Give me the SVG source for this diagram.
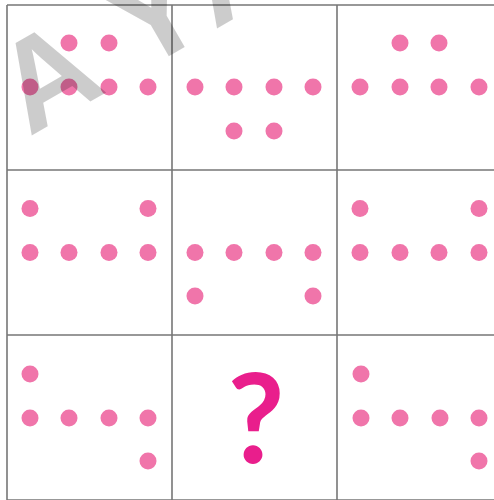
<svg xmlns="http://www.w3.org/2000/svg" width="494" height="500" viewBox="0 0 494 500">
<style>
.grid{fill:none;stroke:#777;stroke-width:1.6}
.d{fill:#F075AA}
.q{font-family:Lato,"Open Sans",sans-serif;font-weight:bold;font-size:124px;fill:#E91E8C;text-anchor:middle}
.wm{font-family:"Liberation Sans",Arial,sans-serif;font-weight:bold;font-size:128px;fill:#000;fill-opacity:0.2}
</style>
<defs>
<circle id="dot" r="8.5" class="d"/>
</defs>
<rect width="494" height="500" fill="#fff"/>
<g id="grid">
<path class="grid" d="M7,5V502M172,5V502M337,5V502M7,5H502M7,170H502M7,335H502M7,500H502"/>
</g>
<g id="cell-1-1">
<use href="#dot" x="69" y="43"/><use href="#dot" x="109" y="43"/>
<use href="#dot" x="30" y="87"/><use href="#dot" x="69" y="87"/><use href="#dot" x="109" y="87"/><use href="#dot" x="148" y="87"/>
</g>
<g id="cell-1-2">
<use href="#dot" x="195" y="87"/><use href="#dot" x="234" y="87"/><use href="#dot" x="274" y="87"/><use href="#dot" x="313" y="87"/>
<use href="#dot" x="234" y="131"/><use href="#dot" x="274" y="131"/>
</g>
<g id="cell-1-3">
<use href="#dot" x="400" y="43"/><use href="#dot" x="439" y="43"/>
<use href="#dot" x="360" y="87"/><use href="#dot" x="400" y="87"/><use href="#dot" x="439" y="87"/><use href="#dot" x="479" y="87"/>
</g>
<g id="cell-2-1">
<use href="#dot" x="30" y="208.5"/><use href="#dot" x="148" y="208.5"/>
<use href="#dot" x="30" y="252.5"/><use href="#dot" x="69" y="252.5"/><use href="#dot" x="109" y="252.5"/><use href="#dot" x="148" y="252.5"/>
</g>
<g id="cell-2-2">
<use href="#dot" x="195" y="252.5"/><use href="#dot" x="234" y="252.5"/><use href="#dot" x="274" y="252.5"/><use href="#dot" x="313" y="252.5"/>
<use href="#dot" x="195" y="296"/><use href="#dot" x="313" y="296"/>
</g>
<g id="cell-2-3">
<use href="#dot" x="360" y="208.5"/><use href="#dot" x="479" y="208.5"/>
<use href="#dot" x="360" y="252.5"/><use href="#dot" x="400" y="252.5"/><use href="#dot" x="439" y="252.5"/><use href="#dot" x="479" y="252.5"/>
</g>
<g id="cell-3-1">
<use href="#dot" x="30" y="374"/>
<use href="#dot" x="30" y="418"/><use href="#dot" x="69" y="418"/><use href="#dot" x="109" y="418"/><use href="#dot" x="148" y="418"/>
<use href="#dot" x="148" y="461"/>
</g>
<g id="cell-3-2">
<text class="q" x="256" y="463">?</text>
</g>
<g id="cell-3-3">
<use href="#dot" x="361" y="374"/>
<use href="#dot" x="361" y="418"/><use href="#dot" x="400" y="418"/><use href="#dot" x="440" y="418"/><use href="#dot" x="479" y="418"/>
<use href="#dot" x="479" y="461"/>
</g>
<g id="watermark" transform="translate(29,137) rotate(-30)">
<text class="wm"><tspan x="0" y="0">A</tspan><tspan x="128" y="0">Y</tspan><tspan x="214" y="0">A</tspan></text>
</g>
</svg>
